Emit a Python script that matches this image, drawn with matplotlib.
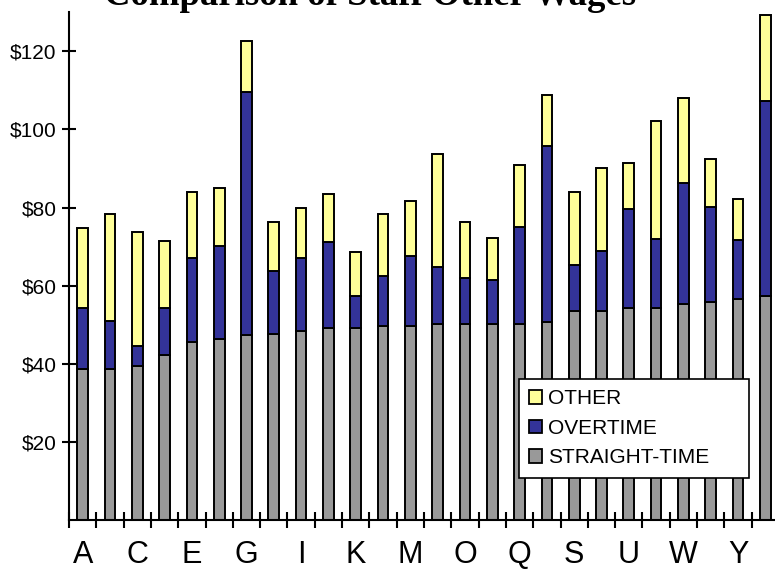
import matplotlib
matplotlib.use("Agg")
import matplotlib.pyplot as plt
from matplotlib.patches import Patch
import numpy as np

# Staff wage components per person (dollars)
staff = list("ABCDEFGHIJKLMNOPQRSTUVWXYZ")
straight_time = [38.8, 38.7, 39.4, 42.4, 45.7, 46.3, 47.4, 47.8, 48.4, 49.1, 49.1, 49.6, 49.6,
                 50.2, 50.2, 50.2, 50.2, 50.7, 53.6, 53.6, 54.2, 54.2, 55.3, 55.9, 56.5, 57.4]
overtime = [15.6, 12.2, 5.2, 12.0, 21.4, 23.8, 62.1, 16.0, 18.7, 22.0, 8.3, 12.9, 18.1,
            14.6, 11.7, 11.2, 24.9, 45.1, 11.8, 15.2, 25.5, 17.8, 31.1, 24.3, 15.2, 49.8]
other = [20.4, 27.5, 29.2, 17.1, 16.8, 14.9, 13.2, 12.6, 12.8, 12.3, 11.3, 15.9, 13.9,
         28.8, 14.5, 10.7, 15.7, 12.9, 18.5, 21.4, 11.6, 30.1, 21.7, 12.2, 10.4, 22.1]
y_ticks = [20, 40, 60, 80, 100, 120]

gray = "#999999"
blue = "#333399"
yellow = "#FFFF99"

fig = plt.figure(figsize=(7.75, 5.73), dpi=100)
ax = fig.add_axes([69 / 775, 1 - 520.4 / 573, 710 / 775, 508.3 / 573])

x = np.arange(len(staff))
st = np.array(straight_time)
ot = np.array(overtime)
oth = np.array(other)
bar_kw = dict(width=0.39, edgecolor="black", linewidth=1.4)
ax.bar(x, st, color=gray, **bar_kw)
ax.bar(x, ot, bottom=st, color=blue, **bar_kw)
ax.bar(x, oth, bottom=st + ot, color=yellow, **bar_kw)

ax.set_xlim(-0.5, len(staff) - 0.5)
ax.set_ylim(0, 130)

for side in ["top", "right"]:
    ax.spines[side].set_visible(False)
for side in ["left", "bottom"]:
    ax.spines[side].set_linewidth(1.5)

# category labels on every other bar, tick marks between bars
ax.set_xticks(x[::2])
ax.set_xticklabels(staff[::2], fontsize=22, family="Liberation Sans")
ax.set_xticks(np.arange(-0.5, len(staff)), minor=True)
ax.tick_params(axis="x", which="major", length=0, pad=14)
ax.tick_params(axis="x", which="minor", direction="inout", length=11, width=1.5)

ax.set_yticks(y_ticks)
ax.set_yticklabels([f"${v}" for v in y_ticks], fontsize=15, family="Liberation Sans")
ax.tick_params(axis="y", direction="inout", length=10, width=1.5, pad=4)

handles = [Patch(facecolor=yellow, edgecolor="black", linewidth=1.3, label="OTHER"),
           Patch(facecolor=blue, edgecolor="black", linewidth=1.3, label="OVERTIME"),
           Patch(facecolor=gray, edgecolor="black", linewidth=1.3, label="STRAIGHT-TIME")]
leg = ax.legend(handles=handles, loc="upper left",
                bbox_to_anchor=(519 / 775, 1 - 473 / 573, 230 / 775, 94 / 573),
                bbox_transform=fig.transFigure, mode="expand", borderaxespad=0,
                prop={"family": "Liberation Sans", "size": 15},
                handlelength=0.6, handleheight=0.6, handletextpad=0.3,
                labelspacing=0.5, borderpad=0.5, fancybox=False, framealpha=1)
leg.get_frame().set_edgecolor("black")
leg.get_frame().set_linewidth(1.2)
leg.set_zorder(5)

fig.text(370 / 775, 1 - 5 / 573, "Comparison of Staff Other Wages", ha="center",
         va="baseline", fontsize=26.5, fontweight="bold", family="Liberation Serif")

fig.savefig("out.png", dpi=100)
